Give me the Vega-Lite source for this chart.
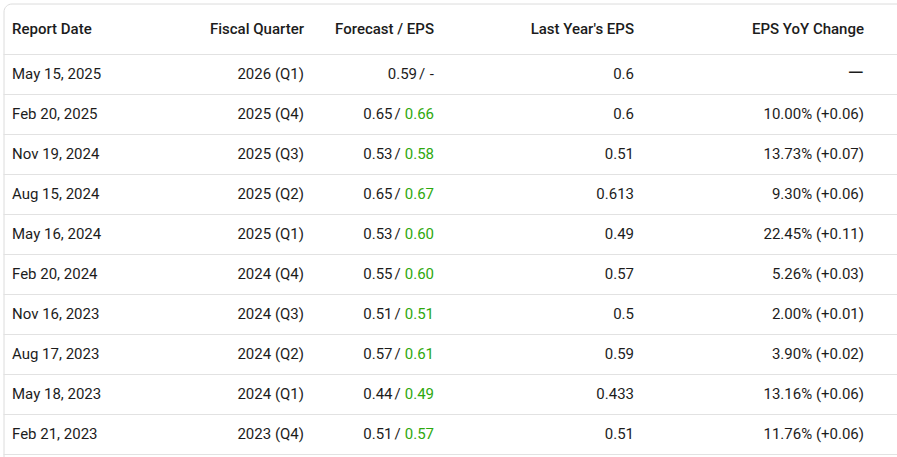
{
  "$schema": "https://vega.github.io/schema/vega-lite/v6.json",
  "width": 910,
  "height": 470,
  "autosize": {"type": "none"},
  "padding": {"left": 3.5, "top": 3.5, "right": 0, "bottom": 0},
  "background": "white",
  "config": {
    "view": {"stroke": "#dcdcdc", "strokeWidth": 1, "cornerRadius": 8, "fill": "white"},
    "text": {"font": "Roboto", "fontSize": 15, "fill": "#1c1c1c", "baseline": "middle", "dy": -0.5}
  },
  "data": {
    "values": [
      {"date": "May 15, 2025", "quarter": "2026 (Q1)", "forecast": "0.59", "eps": "-", "last": "0.6", "yoy": "—"},
      {"date": "Feb 20, 2025", "quarter": "2025 (Q4)", "forecast": "0.65", "eps": "0.66", "last": "0.6", "yoy": "10.00% (+0.06)"},
      {"date": "Nov 19, 2024", "quarter": "2025 (Q3)", "forecast": "0.53", "eps": "0.58", "last": "0.51", "yoy": "13.73% (+0.07)"},
      {"date": "Aug 15, 2024", "quarter": "2025 (Q2)", "forecast": "0.65", "eps": "0.67", "last": "0.613", "yoy": "9.30% (+0.06)"},
      {"date": "May 16, 2024", "quarter": "2025 (Q1)", "forecast": "0.53", "eps": "0.60", "last": "0.49", "yoy": "22.45% (+0.11)"},
      {"date": "Feb 20, 2024", "quarter": "2024 (Q4)", "forecast": "0.55", "eps": "0.60", "last": "0.57", "yoy": "5.26% (+0.03)"},
      {"date": "Nov 16, 2023", "quarter": "2024 (Q3)", "forecast": "0.51", "eps": "0.51", "last": "0.5", "yoy": "2.00% (+0.01)"},
      {"date": "Aug 17, 2023", "quarter": "2024 (Q2)", "forecast": "0.57", "eps": "0.61", "last": "0.59", "yoy": "3.90% (+0.02)"},
      {"date": "May 18, 2023", "quarter": "2024 (Q1)", "forecast": "0.44", "eps": "0.49", "last": "0.433", "yoy": "13.16% (+0.06)"},
      {"date": "Feb 21, 2023", "quarter": "2023 (Q4)", "forecast": "0.51", "eps": "0.57", "last": "0.51", "yoy": "11.76% (+0.06)"}
    ]
  },
  "encoding": {
    "y": {
      "field": "date",
      "type": "nominal",
      "axis": null,
      "scale": {
        "domain": ["hdr", "May 15, 2025", "Feb 20, 2025", "Nov 19, 2024", "Aug 15, 2024", "May 16, 2024", "Feb 20, 2024", "Nov 16, 2023", "Aug 17, 2023", "May 18, 2023", "Feb 21, 2023"],
        "range": [11, 451],
        "paddingInner": 0,
        "paddingOuter": 0
      }
    }
  },
  "layer": [
    {
      "mark": {"type": "rule", "stroke": "#e2e2e2", "strokeWidth": 1},
      "encoding": {"y": {"field": "date", "type": "nominal", "bandPosition": 1}}
    },
    {
      "data": {"values": [{}]},
      "mark": {"type": "rule", "stroke": "#e2e2e2", "strokeWidth": 1},
      "encoding": {"y": {"datum": "hdr", "type": "nominal", "bandPosition": 1}}
    },
    {
      "data": {"values": [{}]},
      "mark": {"type": "text", "align": "left", "fontWeight": 500, "dy": -6, "text": "Report Date"},
      "encoding": {"y": {"datum": "hdr", "type": "nominal"}, "x": {"datum": 12, "type": "quantitative", "scale": {"domain": [3.5, 913.5], "range": [0, 910]}, "axis": null}}
    },
    {
      "data": {"values": [{}]},
      "mark": {"type": "text", "align": "right", "fontWeight": 500, "dy": -6, "text": "Fiscal Quarter"},
      "encoding": {"y": {"datum": "hdr", "type": "nominal"}, "x": {"datum": 304, "type": "quantitative", "scale": {"domain": [3.5, 913.5], "range": [0, 910]}, "axis": null}}
    },
    {
      "data": {"values": [{}]},
      "mark": {"type": "text", "align": "right", "fontWeight": 500, "dy": -6, "text": "Forecast / EPS"},
      "encoding": {"y": {"datum": "hdr", "type": "nominal"}, "x": {"datum": 434, "type": "quantitative", "scale": {"domain": [3.5, 913.5], "range": [0, 910]}, "axis": null}}
    },
    {
      "data": {"values": [{}]},
      "mark": {"type": "text", "align": "right", "fontWeight": 500, "dy": -6, "text": "Last Year's EPS"},
      "encoding": {"y": {"datum": "hdr", "type": "nominal"}, "x": {"datum": 634, "type": "quantitative", "scale": {"domain": [3.5, 913.5], "range": [0, 910]}, "axis": null}}
    },
    {
      "data": {"values": [{}]},
      "mark": {"type": "text", "align": "right", "fontWeight": 500, "dy": -6, "text": "EPS YoY Change"},
      "encoding": {"y": {"datum": "hdr", "type": "nominal"}, "x": {"datum": 864, "type": "quantitative", "scale": {"domain": [3.5, 913.5], "range": [0, 910]}, "axis": null}}
    },
    {
      "mark": {"type": "text", "align": "left"},
      "encoding": {"text": {"field": "date"}, "x": {"datum": 12, "type": "quantitative", "scale": {"domain": [3.5, 913.5], "range": [0, 910]}, "axis": null}}
    },
    {
      "mark": {"type": "text", "align": "right"},
      "encoding": {"text": {"field": "quarter"}, "x": {"datum": 304, "type": "quantitative", "scale": {"domain": [3.5, 913.5], "range": [0, 910]}, "axis": null}}
    },
    {
      "transform": [{"filter": "datum.eps != '-'"}],
      "mark": {"type": "text", "align": "right"},
      "encoding": {"text": {"field": "forecast"}, "x": {"datum": 392.5, "type": "quantitative", "scale": {"domain": [3.5, 913.5], "range": [0, 910]}, "axis": null}}
    },
    {
      "transform": [{"filter": "datum.eps != '-'"}],
      "mark": {"type": "text", "align": "center", "text": "/"},
      "encoding": {"x": {"datum": 397.5, "type": "quantitative", "scale": {"domain": [3.5, 913.5], "range": [0, 910]}, "axis": null}}
    },
    {
      "transform": [{"filter": "datum.eps != '-'"}],
      "mark": {"type": "text", "align": "right", "fill": "#2ea80e"},
      "encoding": {"text": {"field": "eps"}, "x": {"datum": 434, "type": "quantitative", "scale": {"domain": [3.5, 913.5], "range": [0, 910]}, "axis": null}}
    },
    {
      "transform": [{"filter": "datum.eps == '-'"}],
      "mark": {"type": "text", "align": "right"},
      "encoding": {"text": {"field": "forecast"}, "x": {"datum": 417, "type": "quantitative", "scale": {"domain": [3.5, 913.5], "range": [0, 910]}, "axis": null}}
    },
    {
      "transform": [{"filter": "datum.eps == '-'"}],
      "mark": {"type": "text", "align": "center", "text": "/"},
      "encoding": {"x": {"datum": 422, "type": "quantitative", "scale": {"domain": [3.5, 913.5], "range": [0, 910]}, "axis": null}}
    },
    {
      "transform": [{"filter": "datum.eps == '-'"}],
      "mark": {"type": "text", "align": "right"},
      "encoding": {"text": {"field": "eps"}, "x": {"datum": 434, "type": "quantitative", "scale": {"domain": [3.5, 913.5], "range": [0, 910]}, "axis": null}}
    },
    {
      "mark": {"type": "text", "align": "right"},
      "encoding": {"text": {"field": "last"}, "x": {"datum": 634, "type": "quantitative", "scale": {"domain": [3.5, 913.5], "range": [0, 910]}, "axis": null}}
    },
    {
      "mark": {"type": "text", "align": "right"},
      "encoding": {
        "text": {"field": "yoy"},
        "size": {"condition": {"test": "datum.yoy == '—'", "value": 21}, "value": 15},
        "x": {"datum": 864, "type": "quantitative", "scale": {"domain": [3.5, 913.5], "range": [0, 910]}, "axis": null}
      }
    }
  ]
}
